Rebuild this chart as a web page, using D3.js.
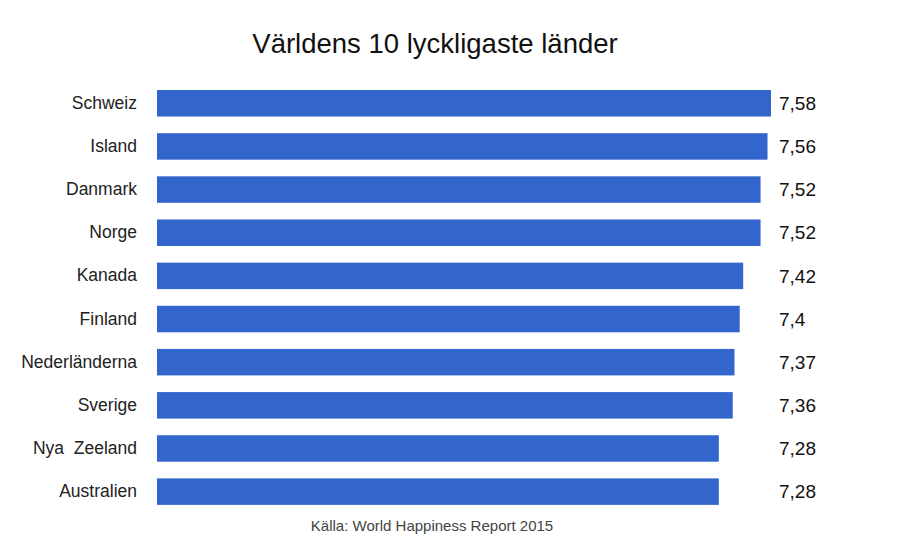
<!doctype HTML>
<html>
<head>
    <style>
        body { margin: 0; background: #fff; }
        text { font-family: "Liberation Sans", Arial, sans-serif; white-space: pre; }
        .bar { fill: #3366cc; }
    </style>
    <script src="https://d3js.org/d3.v7.min.js"></script>
</head>
<body>
<script>
    // data
    var countries = ["Schweiz", "Island", "Danmark", "Norge", "Kanada", "Finland",
        "Nederländerna", "Sverige", "Nya  Zeeland", "Australien"];
    var scores = [7.58, 7.56, 7.52, 7.52, 7.42, 7.4, 7.37, 7.36, 7.28, 7.28];
    var scoreLabels = ["7,58", "7,56", "7,52", "7,52", "7,42", "7,4", "7,37", "7,36", "7,28", "7,28"];

    var canvasWidth = 900;
    var canvasHeight = 546;

    var svg = d3.select("body").append("svg")
        .attr("width", canvasWidth)
        .attr("height", canvasHeight)

    var data = countries.map(function(c, i) {
        return {name: c, value: scores[i], label: scoreLabels[i]};
    });

    // the value axis does not start at zero in the original
    var xScale = d3.scaleLinear().domain([4.05, 7.58]).range([157, 771]);
    var yScale = d3.scaleBand()
        .domain(countries)
        .range([81.7, 513.2])
        .paddingInner(0.386)
        .paddingOuter(0.193);

    // Title
    svg.append("text")
        .attr("x", 435)
        .attr("y", 53)
        .attr("text-anchor", "middle")
        .attr("font-size", "27.5px")
        .attr("fill", "#111")
        .text("Världens 10 lyckligaste länder")

    svg.selectAll(".bar")
        .data(data)
        .enter().append("rect")
        .attr("class", "bar")
        .attr("x", xScale(4.05))
        .attr("y", function(d) { return yScale(d.name); })
        .attr("width", function(d) { return xScale(d.value) - xScale(4.05); })
        .attr("height", yScale.bandwidth())

    // category labels
    svg.append("g")
        .attr("transform", "translate(157, 0)")
        .call(d3.axisLeft(yScale).tickSize(0).tickPadding(20))
        .call(function(g) { g.select(".domain").remove(); })
        .selectAll("text")
        .attr("font-size", "17.5px")
        .attr("font-family", "'Liberation Sans', Arial, sans-serif")
        .attr("fill", "#222")

    // value labels, all starting at the same x
    svg.selectAll(".value")
        .data(data)
        .enter().append("text")
        .attr("class", "value")
        .attr("x", 779)
        .attr("y", function(d) { return yScale(d.name) + yScale.bandwidth() / 2; })
        .attr("dy", "0.35em")
        .attr("font-size", "19px")
        .attr("fill", "#111")
        .text(function(d) { return d.label; })

    // source
    svg.append("text")
        .attr("x", 432)
        .attr("y", 531)
        .attr("text-anchor", "middle")
        .attr("font-size", "15px")
        .attr("fill", "#444")
        .text("Källa: World Happiness Report 2015")
</script>
</body>
</html>
